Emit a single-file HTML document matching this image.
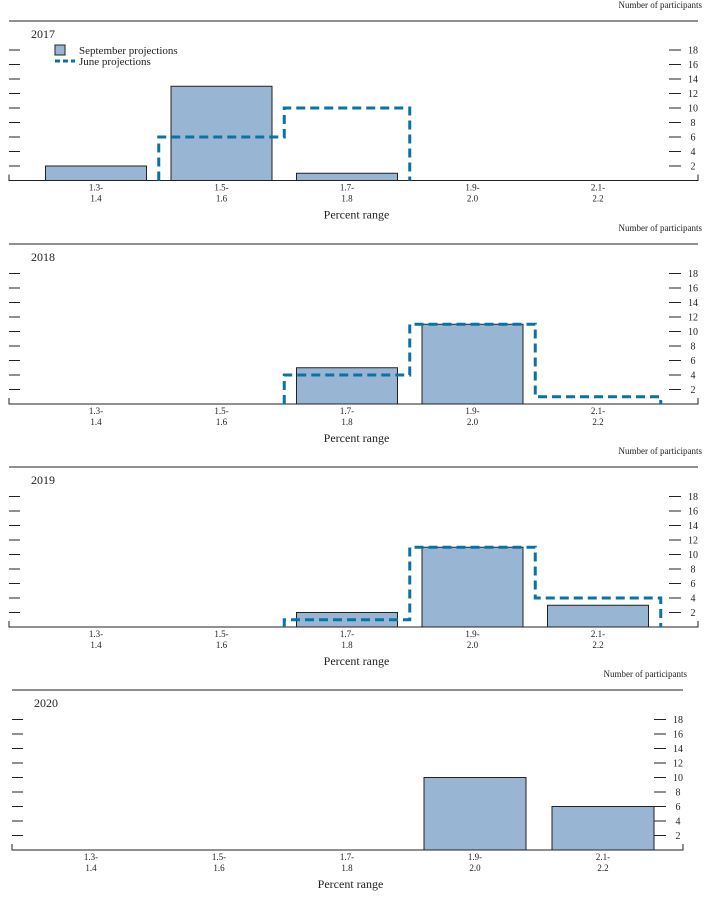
<!DOCTYPE html>
<html><head><meta charset="utf-8"><style>
body{margin:0;background:#fff;width:716px;height:899px;overflow:hidden}
svg{position:absolute;left:0;top:0}
text{font-family:"Liberation Serif",serif;fill:#222}
</style></head><body>
<svg id="chart" width="716" height="899"></svg>
<script>
const categories=["1.3-|1.4","1.5-|1.6","1.7-|1.8","1.9-|2.0","2.1-|2.2"];
const years=["2017","2018","2019","2020"];
const septValues=[[2,13,1,0,0],[0,0,5,11,0],[0,0,2,11,3],[0,0,0,10,6]];
const juneValues=[[0,6,10,0,0],[0,0,4,11,1],[0,0,1,11,4],null];
const yTicks=[2,4,6,8,10,12,14,16,18];

const NS="http://www.w3.org/2000/svg";
const svg=document.getElementById('chart');
function el(t,a,p){const e=document.createElementNS(NS,t);for(const k in a)e.setAttribute(k,a[k]);(p||svg).appendChild(e);return e;}
const panels=[
 {top:21,base:180.5,left:9,right:698,c0:96,step:125.5,bw:101},
 {top:244,base:404,left:9,right:698,c0:96,step:125.5,bw:101},
 {top:467,base:627,left:9,right:698,c0:96,step:125.5,bw:101},
 {top:690,base:850,left:12,right:683,c0:91,step:128,bw:102}
];
const unit=7.25;
panels.forEach((P,pi)=>{
 const g=el('g',{});
 
 
 const y=v=>P.base-v*unit;
 const x=i=>P.c0+i*P.step;
 const nt=el('text',{x:P.right+4,y:P.top-13,'font-size':9,'text-anchor':'end'},g);nt.textContent='Number of participants';
 
 el('line',{x1:P.left,x2:P.right,y1:P.top,y2:P.top,stroke:'#222','stroke-width':1},g);
 const yt=el('text',{x:P.left+22,y:P.top+17,'font-size':12},g);yt.textContent=years[pi];
 
 el('path',{d:`M${P.left} ${P.base-6}V${P.base}H${P.right}V${P.base-6}`,fill:'none',stroke:'#222','stroke-width':1},g);
 const rt=P.right-17;
 yTicks.forEach(t=>{
  el('line',{x1:P.left,x2:P.left+11,y1:y(t),y2:y(t),stroke:'#222'},g);
  el('line',{x1:rt-12,x2:rt,y1:y(t),y2:y(t),stroke:'#222'},g);
  const tl=el('text',{x:rt+12,y:y(t)+3.5,'font-size':10,'text-anchor':'middle'},g);tl.textContent=t;
  
 });
 septValues[pi].forEach((v,i)=>{
  if(v<=0)return;
  const r=el('rect',{x:x(i)-P.bw/2,y:y(v),width:P.bw,height:v*unit,fill:'#98b6d4',stroke:'#222','stroke-width':1},g);
  
 });
 categories.forEach((c,i)=>{
  const [a,b]=c.split('|');
  const t1=el('text',{x:x(i),y:P.base+10,'font-size':9,'text-anchor':'middle'},g);t1.textContent=a;
  const t2=el('text',{x:x(i),y:P.base+21,'font-size':9,'text-anchor':'middle'},g);t2.textContent=b;
  
  
 });
 const xl=el('text',{x:(P.left+P.right)/2+3,y:P.base+38,'font-size':12,'text-anchor':'middle'},g);xl.textContent='Percent range';
 
 const J=juneValues[pi];
 if(J){
  let first=J.findIndex(v=>v>0), last=-1;
  J.forEach((v,i)=>{if(v>0)last=i;});
  let d=`M${x(first)-P.step/2} ${y(0)}`;
  for(let i=first;i<=last;i++){d+=`V${y(J[i])}H${x(i)+P.step/2}`;}
  d+=`V${y(0)}`;
  const p=el('path',{d:d,fill:'none',stroke:'#0b72a6','stroke-width':3,'stroke-dasharray':'9,5'},g);
  
 }
 if(pi===0){
  const lg=el('g',{},g);
  el('rect',{x:55,y:45,width:10,height:10,fill:'#98b6d4',stroke:'#222'},lg);
  const l1=el('text',{x:79,y:54,'font-size':11},lg);l1.textContent='September projections';
  el('line',{x1:55,x2:75,y1:61,y2:61,stroke:'#0b72a6','stroke-width':3,'stroke-dasharray':'5,3'},lg);
  const l2=el('text',{x:79,y:65,'font-size':11},lg);l2.textContent='June projections';
 }
});
</script>
</body></html>
